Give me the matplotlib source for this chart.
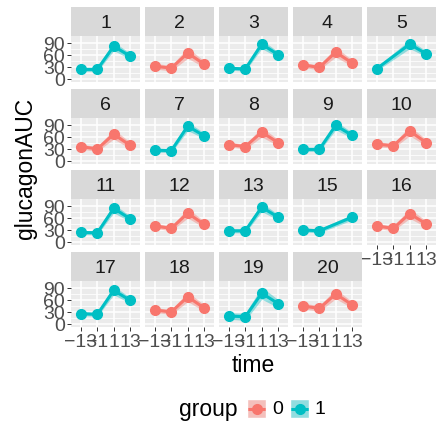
"""
Spaghetti facets of glucagon AUC per subject, ggplot-like look.
"""
import numpy as np
import matplotlib.pyplot as plt

plt.rcParams['font.family'] = ['Liberation Sans', 'DejaVu Sans']

RED = "#F8766D"
TEAL = "#00BFC4"
PANEL_BG = "#EBEBEB"
STRIP_BG = "#D9D9D9"
TICK_TXT = "#4D4D4D"
NA = np.nan

# ---- data ----
time_labels = ["\u221213", "\u22121", "1", "13"]
subjects = ["1", "2", "3", "4", "5", "6", "7", "8", "9", "10",
            "11", "12", "13", "15", "16", "17", "18", "19", "20"]
group = [1, 0, 1, 0, 1, 0, 1, 0, 1, 0,
         1, 0, 1, 1, 0, 1, 0, 1, 0]
auc = [
    [24, 24, 82, 57],
    [32, 27, 65, 37],
    [27, 25, 87, 61],
    [35, 29, 67, 40],
    [26, NA, 87, 63],
    [36, 30, 67, 39],
    [27, 26, 87, 63],
    [41, 36, 72, 46],
    [29, 29, 89, 64],
    [42, 38, 75, 46],
    [24, 23, 84, 58],
    [40, 34, 72, 44],
    [28, 28, 87, 62],
    [30, 28, NA, 62],
    [40, 34, 71, 45],
    [26, 24, 84, 59],
    [35, 30, 68, 40],
    [20, 18, 77, 51],
    [45, 39, 75, 48],
]
band = [
    [5, 5, 11, 7], [7, 7, 13, 8], [5, 5, 11, 7], [6, 6, 12, 8], [5, 5, 11, 7],
    [6, 6, 12, 8], [5, 5, 11, 7], [6, 6, 12, 8], [5, 5, 11, 7], [6, 6, 12, 8],
    [5, 5, 11, 7], [6, 6, 12, 8], [5, 5, 11, 7], [5, 5, 7, 7], [6, 6, 12, 8],
    [5, 5, 11, 7], [6, 6, 12, 8], [8, 9, 15, 10], [7, 7, 12, 8],
]

W, H = 446, 427
fig = plt.figure(figsize=(W / 100, H / 100), dpi=100)
fig.patch.set_facecolor("white")


def px_axes(x, y, w, h):
    return fig.add_axes([x / W, 1 - (y + h) / H, w / W, h / H])


col_x = [71, 145, 219, 293, 367]
row_y = [8, 90, 171, 253]
pw, sh, ph = 69, 29, 46
xs = np.arange(len(time_labels))
n = len(subjects)

for i, sid in enumerate(subjects):
    r, c = divmod(i, 5)
    # strip
    sax = px_axes(col_x[c], row_y[r], pw, sh)
    sax.set_facecolor(STRIP_BG)
    sax.set_xticks([])
    sax.set_yticks([])
    for s in sax.spines.values():
        s.set_visible(False)
    sax.text(0.5, 0.48, sid, ha="center", va="center", fontsize=14,
             color="#1A1A1A", transform=sax.transAxes)

    ax = px_axes(col_x[c], row_y[r] + sh, pw, ph)
    ax.set_facecolor(PANEL_BG)
    for s in ax.spines.values():
        s.set_visible(False)
    ax.set_xlim(-0.6, 3.6)
    ax.set_ylim(-7.5, 107.5)
    ax.set_xticks(xs)
    ax.set_yticks([0, 30, 60, 90])
    ax.set_yticks([15, 45, 75], minor=True)
    ax.grid(which="major", color="white", lw=1.1)
    ax.grid(which="minor", axis="y", color="white", lw=0.55)
    ax.set_axisbelow(True)
    ax.tick_params(which="minor", length=0)
    ax.tick_params(which="major", length=3, width=0.7, color="#333333",
                   labelsize=14, labelcolor=TICK_TXT, pad=1.5)

    if c == 0:
        ax.set_yticklabels(["0", "30", "60", "90"])
    else:
        ax.tick_params(axis="y", length=0, labelleft=False)
    if i + 5 < n:
        ax.tick_params(axis="x", length=0, labelbottom=False)
    else:
        ax.set_xticklabels(time_labels)

    y = np.array(auc[i], dtype=float)
    b = np.array(band[i], dtype=float)
    ok = ~np.isnan(y)
    col = TEAL if group[i] == 1 else RED
    ax.fill_between(xs[ok], (y - b)[ok], (y + b)[ok], color=col, alpha=0.4, lw=0)
    ax.plot(xs[ok], y[ok], color=col, lw=2.2, marker="o", ms=7, zorder=3)

# axis titles
fig.text(253 / W, 1 - 366 / H, "time", ha="center", va="center", fontsize=16.5)
fig.text(25 / W, 1 - 168 / H, "glucagonAUC", ha="center", va="center",
         fontsize=16.5, rotation=90)

# legend
fig.text(208 / W, 1 - 410 / H, "group", ha="center", va="center", fontsize=16.5)
for kx, col, lab in [(247, RED, "0"), (290, TEAL, "1")]:
    kax = px_axes(kx, 400, 19, 19)
    kax.set_facecolor("#F2F2F2")
    kax.set_xlim(0, 1)
    kax.set_ylim(0, 1)
    kax.set_xticks([])
    kax.set_yticks([])
    for s in kax.spines.values():
        s.set_color("white")
        s.set_linewidth(1)
    kax.fill_between([0, 1], 0, 1, color=col, alpha=0.4, lw=0)
    kax.plot([0.08, 0.92], [0.5, 0.5], color=col, lw=2.2)
    kax.plot([0.5], [0.5], "o", color=col, ms=7)
    fig.text((kx + 25) / W, 1 - 410 / H, lab, ha="left", va="center", fontsize=14)

fig.savefig("out.png", dpi=100, facecolor="white")
